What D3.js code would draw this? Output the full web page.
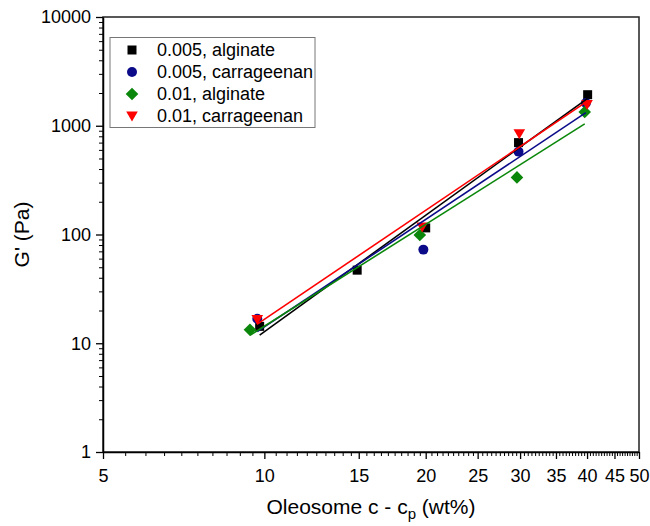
<!DOCTYPE html>
<html>
<head>
<meta charset="utf-8">
<script src="https://cdn.jsdelivr.net/npm/d3@7"></script>
<style>
  body { margin: 0; background: #fff; }
  svg { font-family: "Liberation Sans", Arial, sans-serif; }
</style>
</head>
<body>
<div id="chart"></div>
<script>
// series labels (legend order)
const seriesNames = ["0.005, alginate", "0.005, carrageenan", "0.01, alginate", "0.01, carrageenan"]

// values (x = c - cp in wt%, y = G' in Pa)
const alg005X = [9.8, 14.9, 20.0, 29.8, 40.1]
const alg005Y = [14.3, 47, 115, 700, 1930]
const car005X = [9.7, 19.8, 29.8, 39.8]
const car005Y = [16.8, 72.6, 578, 1620]
const alg01X = [9.4, 19.5, 29.6, 39.6]
const alg01Y = [13.3, 99, 335, 1340]
const car01X = [9.7, 19.7, 29.9, 40.0]
const car01Y = [16.5, 117, 843, 1565]

const xTickValues = [5, 10, 15, 20, 25, 30, 35, 40, 45, 50]
const yTickValues = [1, 10, 100, 1000, 10000]

const seriesX = [alg005X, car005X, alg01X, car01X]
const seriesY = [alg005Y, car005Y, alg01Y, car01Y]
const colors = ["#000000", "#0b0b8a", "#0a870a", "#ff0000"]
const shapes = ["square", "circle", "diamond", "triangle"]

const size = [650, 526]
const margin = ({top: 17, right: 11, bottom: 74, left: 103})

const svg = d3.select("#chart").append("svg")
  .attr("width", size[0])
  .attr("height", size[1])

const scaleX = d3.scaleLog()
  .domain([5, 50])
  .range([margin.left, size[0] - margin.right])

const scaleY = d3.scaleLog()
  .domain([1, 10000])
  .range([size[1] - margin.bottom, margin.top])

// minor ticks: every 0.5 on x, 2..9 per decade on y
const xMinor = d3.range(5, 50.01, 0.5).filter(v => v % 5 !== 0)
const yMinor = []
for (const dec of [1, 10, 100, 1000]) {
  for (let k = 2; k <= 9; k++) yMinor.push(dec * k)
}

// frame
svg.append("rect")
  .attr("x", margin.left)
  .attr("y", margin.top)
  .attr("width", scaleX(50) - margin.left)
  .attr("height", scaleY(1) - margin.top)
  .attr("fill", "none")
  .attr("stroke", "#222")
  .attr("stroke-width", 1.5)

const xAxis = g => g
  .attr("transform", `translate(0,${scaleY(1)})`)
  .call(d3.axisBottom(scaleX)
    .tickValues(xTickValues)
    .tickFormat(d3.format("d"))
    .tickSize(7)
    .tickPadding(10)
    .tickSizeOuter(0))
  .call(g => g.select(".domain").attr("stroke-width", 1.5))
  .call(g => g.selectAll(".tick line").attr("stroke-width", 1.3))
  .call(g => g.selectAll(".tick text")
    .attr("font-size", 18)
    .attr("font-family", "Liberation Sans, Arial, sans-serif"))

const xMinorAxis = g => g
  .attr("transform", `translate(0,${scaleY(1)})`)
  .call(d3.axisBottom(scaleX)
    .tickValues(xMinor)
    .tickFormat("")
    .tickSize(4)
    .tickSizeOuter(0))
  .call(g => g.select(".domain").remove())

const yAxis = g => g
  .attr("transform", `translate(${margin.left},0)`)
  .call(d3.axisLeft(scaleY)
    .tickValues(yTickValues)
    .tickFormat(d3.format("d"))
    .tickSize(7)
    .tickPadding(5)
    .tickSizeOuter(0))
  .call(g => g.select(".domain").attr("stroke-width", 1.5))
  .call(g => g.selectAll(".tick line").attr("stroke-width", 1.3))
  .call(g => g.selectAll(".tick text")
    .attr("font-size", 18)
    .attr("font-family", "Liberation Sans, Arial, sans-serif"))

const yMinorAxis = g => g
  .attr("transform", `translate(${margin.left},0)`)
  .call(d3.axisLeft(scaleY)
    .tickValues(yMinor)
    .tickFormat("")
    .tickSize(4)
    .tickSizeOuter(0))
  .call(g => g.select(".domain").remove())

svg.append("g").call(xMinorAxis)
svg.append("g").call(yMinorAxis)
svg.append("g").call(xAxis)
svg.append("g").call(yAxis)

// axis titles
svg.append("text")
  .attr("x", (scaleX(5) + scaleX(50)) / 2)
  .attr("y", 514)
  .attr("text-anchor", "middle")
  .attr("font-size", 21)
  .call(t => {
    t.append("tspan").text("Oleosome c - c")
    t.append("tspan").attr("font-size", 15).attr("dy", 5).text("p")
    t.append("tspan").attr("dy", -5).text(" (wt%)")
  })

svg.append("text")
  .attr("transform", `translate(29,${(scaleY(1) + scaleY(10000)) / 2}) rotate(-90)`)
  .attr("text-anchor", "middle")
  .attr("font-size", 21)
  .text("G' (Pa)")

// marker shapes
function markerPath(shape) {
  if (shape === "square") return "M-4.5,-4.5H4.5V4.5H-4.5Z"
  if (shape === "circle") return d3.symbol(d3.symbolCircle, 78)()
  if (shape === "diamond") return "M0,-6.3L6.3,0L0,6.3L-6.3,0Z"
  return "M-5.8,-4.6H5.8L0,5.4Z"
}

// least squares fit in log-log space
function logFit(xs, ys) {
  const lx = xs.map(Math.log10)
  const ly = ys.map(Math.log10)
  const mx = d3.mean(lx), my = d3.mean(ly)
  const slope = d3.sum(lx, (v, i) => (v - mx) * (ly[i] - my)) / d3.sum(lx, v => (v - mx) ** 2)
  const b = my - slope * mx
  return x => Math.pow(10, b + slope * Math.log10(x))
}

const plot = svg.append("g")

seriesX.forEach((xs, s) => {
  plot.append("g").selectAll("path")
    .data(xs.map((x, i) => [x, seriesY[s][i]]))
    .join("path")
      .attr("d", markerPath(shapes[s]))
      .attr("transform", d => `translate(${scaleX(d[0])},${scaleY(d[1])})`)
      .attr("fill", colors[s])
})

const line = d3.line()
  .x(d => scaleX(d[0]))
  .y(d => scaleY(d[1]))

seriesX.forEach((xs, s) => {
  const f = logFit(xs, seriesY[s])
  const ext = d3.extent(xs)
  plot.append("path")
    .attr("d", line(ext.map(x => [x, f(x)])))
    .attr("fill", "none")
    .attr("stroke", colors[s])
    .attr("stroke-width", 1.6)
})

// legend
const legend = svg.append("g")
legend.append("rect")
  .attr("x", 110)
  .attr("y", 37.5)
  .attr("width", 205)
  .attr("height", 90)
  .attr("fill", "#fff")
  .attr("stroke", "#777")
  .attr("stroke-width", 1)

seriesNames.forEach((name, s) => {
  const y = 50 + s * 22
  legend.append("path")
    .attr("d", markerPath(shapes[s]))
    .attr("transform", `translate(132,${y})`)
    .attr("fill", colors[s])
  legend.append("text")
    .attr("x", 157)
    .attr("y", y + 6)
    .attr("font-size", 18)
    .text(name)
})
</script>
</body>
</html>
